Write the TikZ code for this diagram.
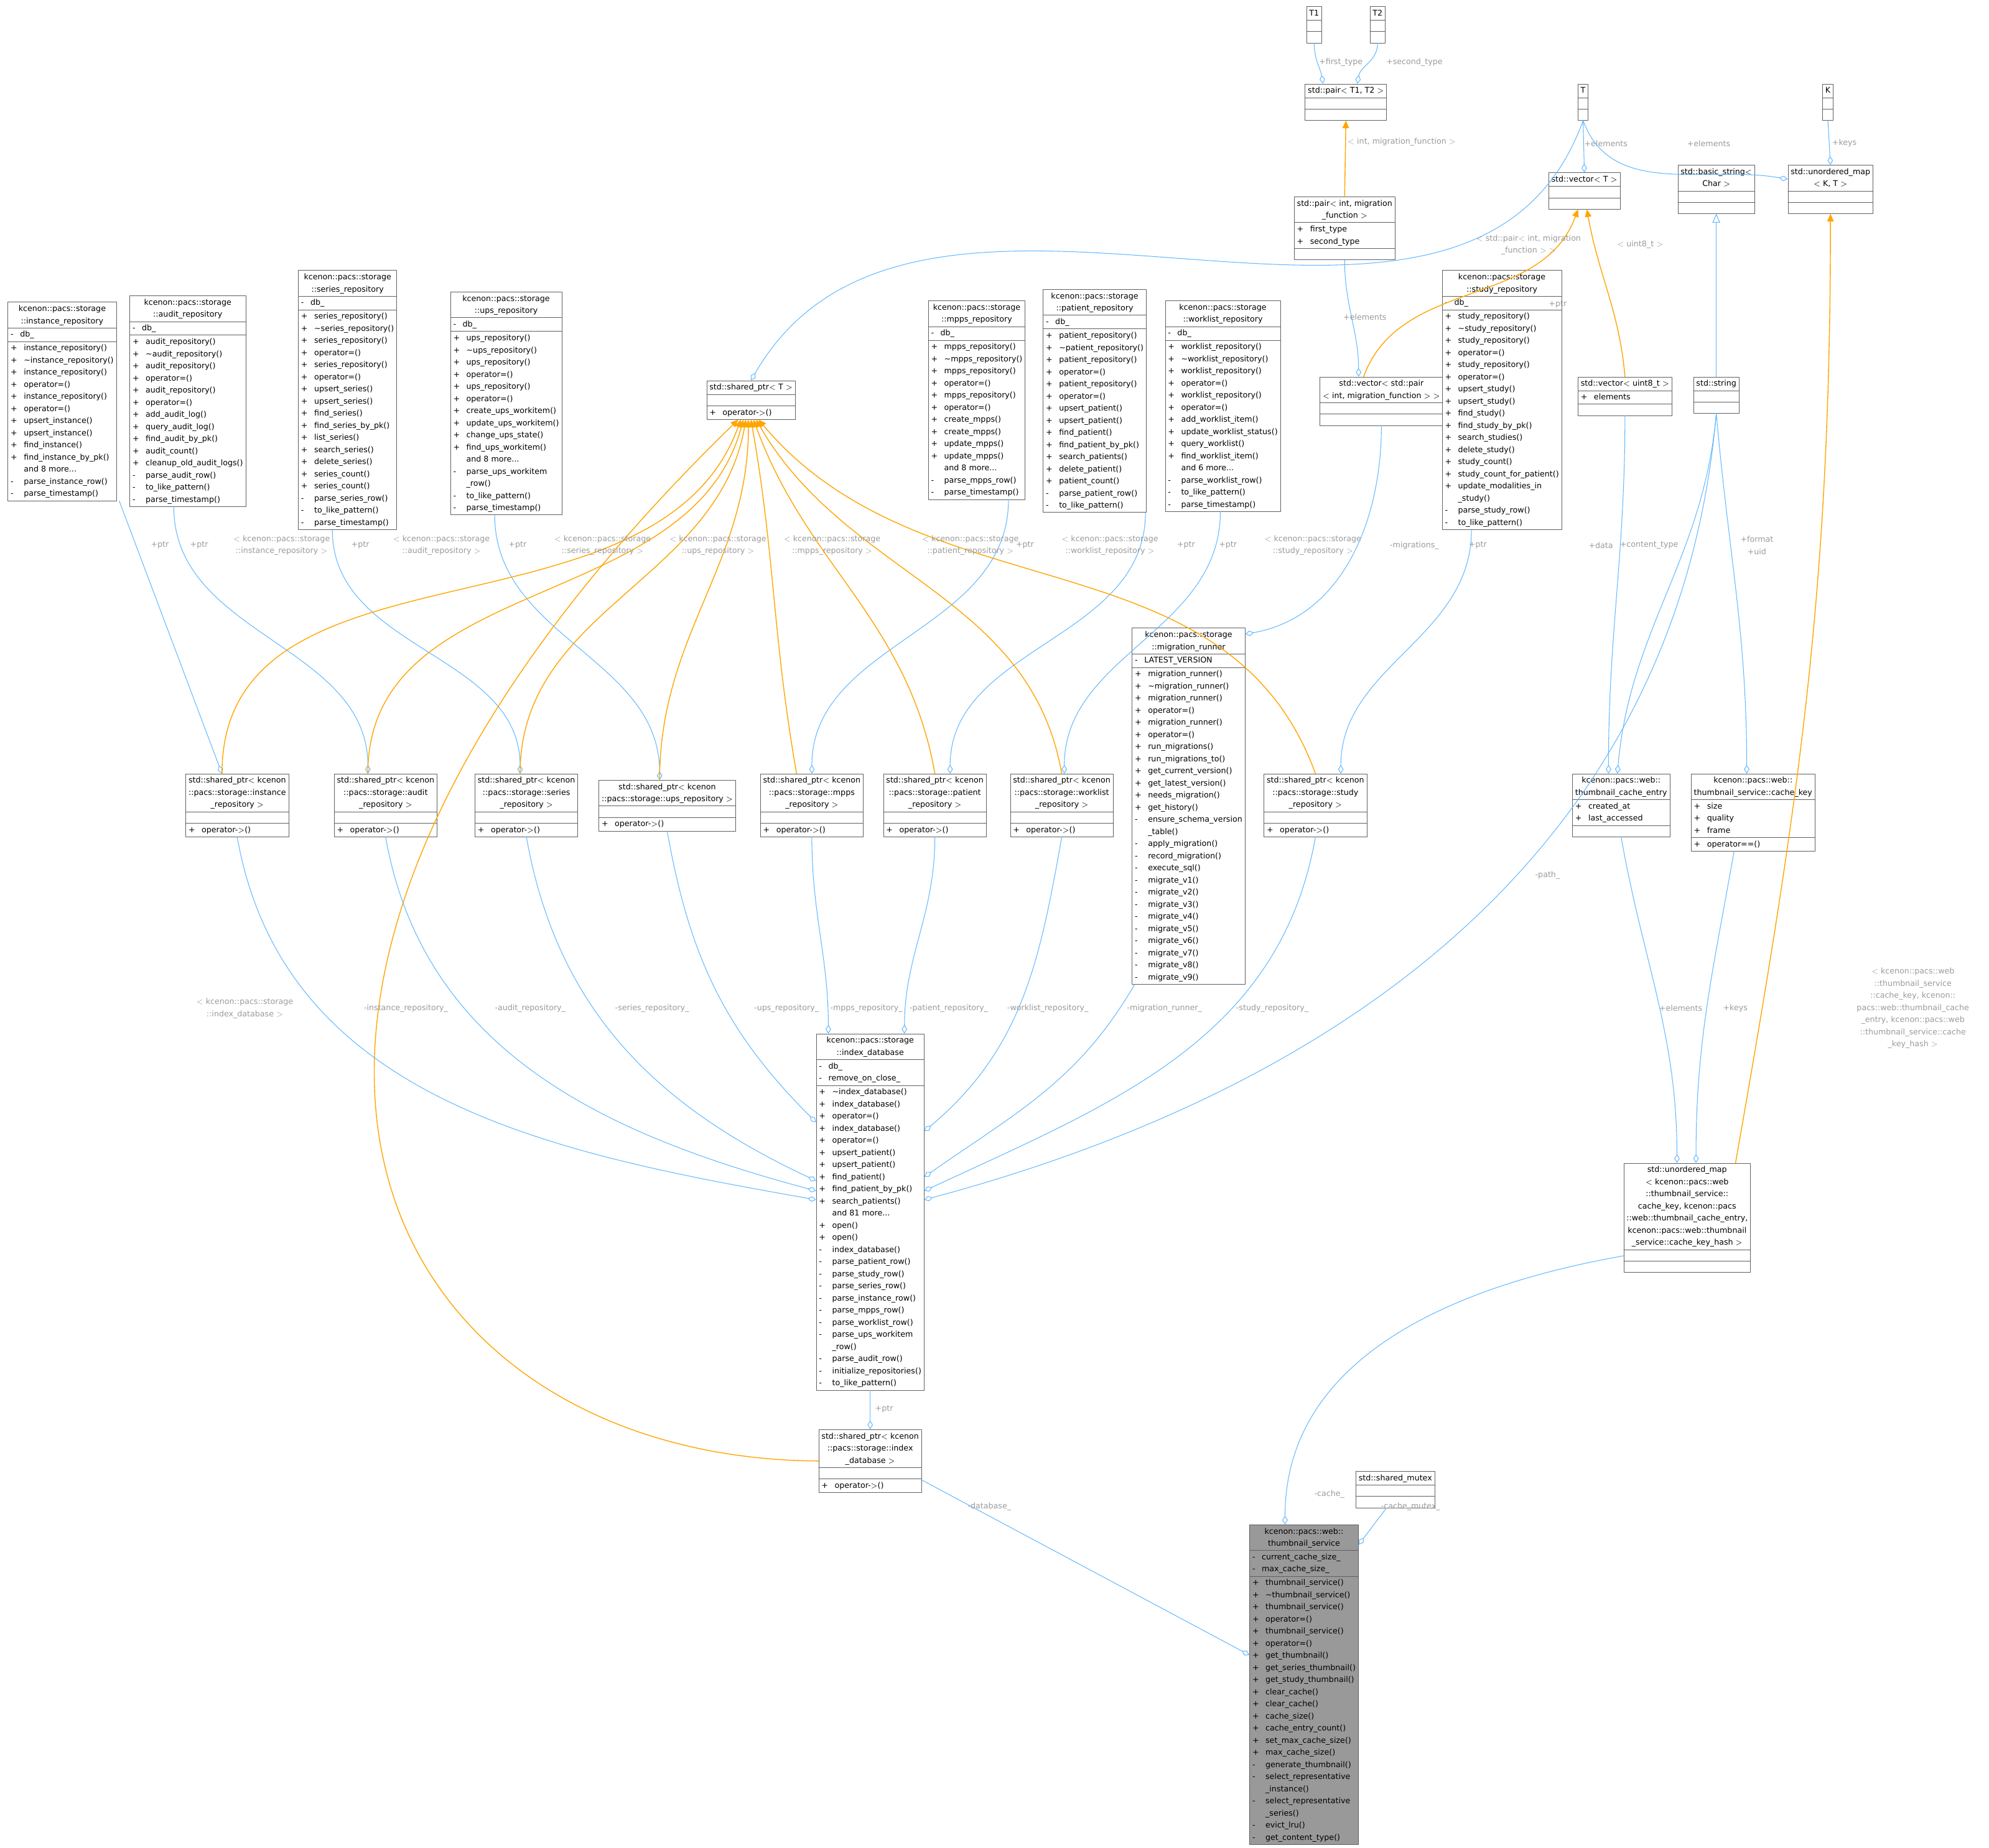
\documentclass[tikz,border=0pt]{standalone}
\usepackage{fontspec}
\newfontfamily\dxfont{DejaVu Sans}
\usetikzlibrary{arrows.meta,shapes.multipart,calc}
\definecolor{edgeblue}{HTML}{63B8FF}
\definecolor{edgeorange}{HTML}{FFA500}
\definecolor{lblgray}{HTML}{9A9A9A}
\newcommand{\ttl}[1]{\begin{tabular}{@{}c@{}}#1\end{tabular}}
\newcommand{\mbs}[1]{\begin{tabular}{@{}l@{\hspace{6pt}}l@{}}#1\end{tabular}}
\newcommand{\emp}{\rule{0pt}{9pt}}
\newcommand{\tl}{\textasciitilde}

\begin{document}
\begin{tikzpicture}[x=0.04078cm,y=-0.04078cm,line cap=round,line join=round,
  every node/.style={font=\dxfont\fontsize{7.2}{11.1}\selectfont},
  cls/.style={rectangle split,rectangle split parts=3,rectangle split ignore empty parts=false,
    rectangle split part align={center,left,left},
    draw=gray!75!black,fill=white,inner xsep=2.5pt,inner ysep=0.5pt,anchor=north},
  lbl/.style={text=lblgray,align=center,inner sep=0.5pt},
  agg/.style={draw=edgeblue,semithick,-{Diamond[open,length=8pt,width=5pt]}},
  tmpl/.style={draw=edgeorange,thick,-{Triangle[length=7pt,width=6pt]}},
  inh/.style={draw=edgeblue,semithick,-{Triangle[open,length=8pt,width=7pt]}}]
\useasboundingbox (0,0) rectangle (1568,1457);

% templates and std types
\node[cls] (t1) at (1036,5) {\ttl{T1}\nodepart{second}\emp\nodepart{third}\emp};
\node[cls] (t2) at (1086,5) {\ttl{T2}\nodepart{second}\emp\nodepart{third}\emp};
\node[cls] (pairtt) at (1061,66) {\ttl{std::pair$<$ T1, T2 $>$}\nodepart{second}\emp\nodepart{third}\emp};
\node[cls] (tt) at (1248,66) {\ttl{T}\nodepart{second}\emp\nodepart{third}\emp};
\node[cls] (kk) at (1441,66) {\ttl{K}\nodepart{second}\emp\nodepart{third}\emp};
\node[cls] (vect) at (1249,136) {\ttl{std::vector$<$ T $>$}\nodepart{second}\emp\nodepart{third}\emp};
\node[cls] (umapkt) at (1443,130) {\ttl{std::unordered\_map\\$<$ K, T $>$}\nodepart{second}\emp\nodepart{third}\emp};
\node[cls] (bstr) at (1353,130) {\ttl{std::basic\_string$<$\\Char $>$}\nodepart{second}\emp\nodepart{third}\emp};
\node[cls] (pairmf) at (1060,155) {\ttl{std::pair$<$ int, migration\\\_function $>$}\nodepart{second}\mbs{+ & first\_type\\+ & second\_type}\nodepart{third}\emp};
\node[cls] (spt) at (592,300) {\ttl{std::shared\_ptr$<$ T $>$}\nodepart{second}\emp\nodepart{third}\mbs{+ & operator-$>$()}};
\node[cls] (vecpair) at (1089,297) {\ttl{std::vector$<$ std::pair\\$<$ int, migration\_function $>$ $>$}\nodepart{second}\emp\nodepart{third}\emp};
\node[cls] (vecu8) at (1281,297) {\ttl{std::vector$<$ uint8\_t $>$}\nodepart{second}\mbs{+ & elements}\nodepart{third}\emp};
\node[cls] (str) at (1353,297) {\ttl{std::string}\nodepart{second}\emp\nodepart{third}\emp};

% repositories
\node[cls] (instrepo) at (49,238) {\ttl{kcenon::pacs::storage\\::instance\_repository}\nodepart{second}\mbs{- & db\_}\nodepart{third}\mbs{+ & instance\_repository()\\+ & \tl instance\_repository()\\+ & instance\_repository()\\+ & operator=()\\+ & instance\_repository()\\+ & operator=()\\+ & upsert\_instance()\\+ & upsert\_instance()\\+ & find\_instance()\\+ & find\_instance\_by\_pk()\\ & and 8 more...\\- & parse\_instance\_row()\\- & parse\_timestamp()}};
\node[cls] (auditrepo) at (148,233) {\ttl{kcenon::pacs::storage\\::audit\_repository}\nodepart{second}\mbs{- & db\_}\nodepart{third}\mbs{+ & audit\_repository()\\+ & \tl audit\_repository()\\+ & audit\_repository()\\+ & operator=()\\+ & audit\_repository()\\+ & operator=()\\+ & add\_audit\_log()\\+ & query\_audit\_log()\\+ & find\_audit\_by\_pk()\\+ & audit\_count()\\+ & cleanup\_old\_audit\_logs()\\- & parse\_audit\_row()\\- & to\_like\_pattern()\\- & parse\_timestamp()}};
\node[cls] (seriesrepo) at (274,213) {\ttl{kcenon::pacs::storage\\::series\_repository}\nodepart{second}\mbs{- & db\_}\nodepart{third}\mbs{+ & series\_repository()\\+ & \tl series\_repository()\\+ & series\_repository()\\+ & operator=()\\+ & series\_repository()\\+ & operator=()\\+ & upsert\_series()\\+ & upsert\_series()\\+ & find\_series()\\+ & find\_series\_by\_pk()\\+ & list\_series()\\+ & search\_series()\\+ & delete\_series()\\+ & series\_count()\\+ & series\_count()\\- & parse\_series\_row()\\- & to\_like\_pattern()\\- & parse\_timestamp()}};
\node[cls] (upsrepo) at (399,230) {\ttl{kcenon::pacs::storage\\::ups\_repository}\nodepart{second}\mbs{- & db\_}\nodepart{third}\mbs{+ & ups\_repository()\\+ & \tl ups\_repository()\\+ & ups\_repository()\\+ & operator=()\\+ & ups\_repository()\\+ & operator=()\\+ & create\_ups\_workitem()\\+ & update\_ups\_workitem()\\+ & change\_ups\_state()\\+ & find\_ups\_workitem()\\ & and 8 more...\\- & parse\_ups\_workitem\\ & \_row()\\- & to\_like\_pattern()\\- & parse\_timestamp()}};
\node[cls] (mppsrepo) at (770,237) {\ttl{kcenon::pacs::storage\\::mpps\_repository}\nodepart{second}\mbs{- & db\_}\nodepart{third}\mbs{+ & mpps\_repository()\\+ & \tl mpps\_repository()\\+ & mpps\_repository()\\+ & operator=()\\+ & mpps\_repository()\\+ & operator=()\\+ & create\_mpps()\\+ & create\_mpps()\\+ & update\_mpps()\\+ & update\_mpps()\\ & and 8 more...\\- & parse\_mpps\_row()\\- & parse\_timestamp()}};
\node[cls] (patrepo) at (863,228) {\ttl{kcenon::pacs::storage\\::patient\_repository}\nodepart{second}\mbs{- & db\_}\nodepart{third}\mbs{+ & patient\_repository()\\+ & \tl patient\_repository()\\+ & patient\_repository()\\+ & operator=()\\+ & patient\_repository()\\+ & operator=()\\+ & upsert\_patient()\\+ & upsert\_patient()\\+ & find\_patient()\\+ & find\_patient\_by\_pk()\\+ & search\_patients()\\+ & delete\_patient()\\+ & patient\_count()\\- & parse\_patient\_row()\\- & to\_like\_pattern()}};
\node[cls] (wlrepo) at (964,237) {\ttl{kcenon::pacs::storage\\::worklist\_repository}\nodepart{second}\mbs{- & db\_}\nodepart{third}\mbs{+ & worklist\_repository()\\+ & \tl worklist\_repository()\\+ & worklist\_repository()\\+ & operator=()\\+ & worklist\_repository()\\+ & operator=()\\+ & add\_worklist\_item()\\+ & update\_worklist\_status()\\+ & query\_worklist()\\+ & find\_worklist\_item()\\ & and 6 more...\\- & parse\_worklist\_row()\\- & to\_like\_pattern()\\- & parse\_timestamp()}};
\node[cls] (studyrepo) at (1184,213) {\ttl{kcenon::pacs::storage\\::study\_repository}\nodepart{second}\mbs{- & db\_}\nodepart{third}\mbs{+ & study\_repository()\\+ & \tl study\_repository()\\+ & study\_repository()\\+ & operator=()\\+ & study\_repository()\\+ & operator=()\\+ & upsert\_study()\\+ & upsert\_study()\\+ & find\_study()\\+ & find\_study\_by\_pk()\\+ & search\_studies()\\+ & delete\_study()\\+ & study\_count()\\+ & study\_count\_for\_patient()\\+ & update\_modalities\_in\\ & \_study()\\- & parse\_study\_row()\\- & to\_like\_pattern()}};
\node[cls] (migrunner) at (937,495) {\ttl{kcenon::pacs::storage\\::migration\_runner}\nodepart{second}\mbs{- & LATEST\_VERSION}\nodepart{third}\mbs{+ & migration\_runner()\\+ & \tl migration\_runner()\\+ & migration\_runner()\\+ & operator=()\\+ & migration\_runner()\\+ & operator=()\\+ & run\_migrations()\\+ & run\_migrations\_to()\\+ & get\_current\_version()\\+ & get\_latest\_version()\\+ & needs\_migration()\\+ & get\_history()\\- & ensure\_schema\_version\\ & \_table()\\- & apply\_migration()\\- & record\_migration()\\- & execute\_sql()\\- & migrate\_v1()\\- & migrate\_v2()\\- & migrate\_v3()\\- & migrate\_v4()\\- & migrate\_v5()\\- & migrate\_v6()\\- & migrate\_v7()\\- & migrate\_v8()\\- & migrate\_v9()}};

% shared pointers to repositories
\node[cls] (spinst) at (187,610) {\ttl{std::shared\_ptr$<$ kcenon\\::pacs::storage::instance\\\_repository $>$}\nodepart{second}\emp\nodepart{third}\mbs{+ & operator-$>$()}};
\node[cls] (spaudit) at (304,610) {\ttl{std::shared\_ptr$<$ kcenon\\::pacs::storage::audit\\\_repository $>$}\nodepart{second}\emp\nodepart{third}\mbs{+ & operator-$>$()}};
\node[cls] (spseries) at (415,610) {\ttl{std::shared\_ptr$<$ kcenon\\::pacs::storage::series\\\_repository $>$}\nodepart{second}\emp\nodepart{third}\mbs{+ & operator-$>$()}};
\node[cls] (spups) at (526,615) {\ttl{std::shared\_ptr$<$ kcenon\\::pacs::storage::ups\_repository $>$}\nodepart{second}\emp\nodepart{third}\mbs{+ & operator-$>$()}};
\node[cls] (spmpps) at (640,610) {\ttl{std::shared\_ptr$<$ kcenon\\::pacs::storage::mpps\\\_repository $>$}\nodepart{second}\emp\nodepart{third}\mbs{+ & operator-$>$()}};
\node[cls] (sppat) at (737,610) {\ttl{std::shared\_ptr$<$ kcenon\\::pacs::storage::patient\\\_repository $>$}\nodepart{second}\emp\nodepart{third}\mbs{+ & operator-$>$()}};
\node[cls] (spwl) at (837,610) {\ttl{std::shared\_ptr$<$ kcenon\\::pacs::storage::worklist\\\_repository $>$}\nodepart{second}\emp\nodepart{third}\mbs{+ & operator-$>$()}};
\node[cls] (spstudy) at (1037,610) {\ttl{std::shared\_ptr$<$ kcenon\\::pacs::storage::study\\\_repository $>$}\nodepart{second}\emp\nodepart{third}\mbs{+ & operator-$>$()}};

% web cache types
\node[cls] (centry) at (1278,610) {\ttl{kcenon::pacs::web::\\thumbnail\_cache\_entry}\nodepart{second}\mbs{+ & created\_at\\+ & last\_accessed}\nodepart{third}\emp};
\node[cls] (ckey) at (1382,610) {\ttl{kcenon::pacs::web::\\thumbnail\_service::cache\_key}\nodepart{second}\mbs{+ & size\\+ & quality\\+ & frame}\nodepart{third}\mbs{+ & operator==()}};
\node[cls] (bigmap) at (1330,917) {\ttl{std::unordered\_map\\$<$ kcenon::pacs::web\\::thumbnail\_service::\\cache\_key, kcenon::pacs\\::web::thumbnail\_cache\_entry,\\ kcenon::pacs::web::thumbnail\\\_service::cache\_key\_hash $>$}\nodepart{second}\emp\nodepart{third}\emp};

% database and service
\node[cls] (idxdb) at (686,815) {\ttl{kcenon::pacs::storage\\::index\_database}\nodepart{second}\mbs{- & db\_\\- & remove\_on\_close\_}\nodepart{third}\mbs{+ & \tl index\_database()\\+ & index\_database()\\+ & operator=()\\+ & index\_database()\\+ & operator=()\\+ & upsert\_patient()\\+ & upsert\_patient()\\+ & find\_patient()\\+ & find\_patient\_by\_pk()\\+ & search\_patients()\\ & and 81 more...\\+ & open()\\+ & open()\\- & index\_database()\\- & parse\_patient\_row()\\- & parse\_study\_row()\\- & parse\_series\_row()\\- & parse\_instance\_row()\\- & parse\_mpps\_row()\\- & parse\_worklist\_row()\\- & parse\_ups\_workitem\\ & \_row()\\- & parse\_audit\_row()\\- & initialize\_repositories()\\- & to\_like\_pattern()}};
\node[cls] (spidx) at (686,1127) {\ttl{std::shared\_ptr$<$ kcenon\\::pacs::storage::index\\\_database $>$}\nodepart{second}\emp\nodepart{third}\mbs{+ & operator-$>$()}};
\node[cls] (smutex) at (1100,1160) {\ttl{std::shared\_mutex}\nodepart{second}\emp\nodepart{third}\emp};
\node[cls,fill=gray!80] (thumbsvc) at (1028,1202) {\ttl{kcenon::pacs::web::\\thumbnail\_service}\nodepart{second}\mbs{- & current\_cache\_size\_\\- & max\_cache\_size\_}\nodepart{third}\mbs{+ & thumbnail\_service()\\+ & \tl thumbnail\_service()\\+ & thumbnail\_service()\\+ & operator=()\\+ & thumbnail\_service()\\+ & operator=()\\+ & get\_thumbnail()\\+ & get\_series\_thumbnail()\\+ & get\_study\_thumbnail()\\+ & clear\_cache()\\+ & clear\_cache()\\+ & cache\_size()\\+ & cache\_entry\_count()\\+ & set\_max\_cache\_size()\\+ & max\_cache\_size()\\- & generate\_thumbnail()\\- & select\_representative\\ & \_instance()\\- & select\_representative\\ & \_series()\\- & evict\_lru()\\- & get\_content\_type()}};

% top part
\draw[agg] (t1.south) to[out=-90,in=100] ($(pairtt.north)+(-18,0)$);
\draw[agg] (t2.south) to[out=-90,in=80] ($(pairtt.north)+(9,0)$);
\node[lbl] (l1) at (1057,49) {+first\_type};
\node[lbl] (l2) at (1115,49) {+second\_type};
\draw[tmpl] (pairmf.north) -- (pairtt.south);
\node[lbl] (l3) at (1105,112) {$<$ int, migration\_function $>$};
\draw[agg] (tt.south) -- (vect.north);
\node[lbl] (l4) at (1266,113) {+elements};
\draw[agg] (tt.south) to[out=-70,in=170] ($(umapkt.west)+(0,-8)$);
\node[lbl] (l5) at (1347,113) {+elements};
\draw[agg] (kk.south) -- (umapkt.north);
\node[lbl] (l6) at (1454,113) {+keys};
\draw[agg] (tt.south) to[out=-110,in=60] ($(spt.north)+(0,0)$);
\node[lbl] (l7) at (1228,240) {+ptr};
\draw[agg] (pairmf.south) to[out=-90,in=90] ($(vecpair.north)+(-18,0)$);
\node[lbl] (l8) at (1076,250) {+elements};
\draw[tmpl] ($(vecpair.north)+(-14,0)$) to[out=70,in=-110] ($(vect.south)+(-5,0)$);
\node[lbl] (l9) at (1205,193) {$<$ std::pair$<$ int, migration\\\_function $>$ $>$};
\draw[tmpl] (vecu8.north) to[out=95,in=-80] ($(vect.south)+(2,0)$);
\node[lbl] (l10) at (1293,193) {$<$ uint8\_t $>$};
\draw[inh] (str.north) -- (bstr.south);

% repositories to shared pointers
\draw[agg] ($(instrepo.south)+(45,0)$) -- ($(spinst.north)+(-12,0)$);
\node[lbl] (p1) at (126,430) {+ptr};
\draw[agg] ($(auditrepo.south)+(-11,0)$) to[out=-90,in=90] ($(spaudit.north)+(-14,0)$);
\node[lbl] (p2) at (157,430) {+ptr};
\draw[agg] ($(seriesrepo.south)+(-12,0)$) to[out=-90,in=90] ($(spseries.north)+(-5,0)$);
\node[lbl] (p3) at (284,430) {+ptr};
\draw[agg] ($(upsrepo.south)+(-9,0)$) to[out=-90,in=90] ($(spups.north)+(-6,0)$);
\node[lbl] (p4) at (408,430) {+ptr};
\draw[agg] ($(mppsrepo.south)+(25,0)$) to[out=-90,in=90] (spmpps.north);
\node[lbl] (p5) at (808,430) {+ptr};
\draw[agg] ($(patrepo.south)+(40,0)$) to[out=-90,in=90] ($(sppat.north)+(12,0)$);
\node[lbl] (p6) at (935,430) {+ptr};
\draw[agg] ($(wlrepo.south)+(-2,0)$) to[out=-90,in=90] ($(spwl.north)+(2,0)$);
\node[lbl] (p7) at (968,430) {+ptr};
\draw[agg] ($(studyrepo.south)+(-24,0)$) to[out=-90,in=90] ($(spstudy.north)+(20,0)$);
\node[lbl] (p8) at (1165,430) {+ptr};

% template instances of shared_ptr
\draw[tmpl] ($(spinst.north)+(-12,0)$) to[out=90,in=-110] ($(spt.south)+(-8,0)$);
\draw[tmpl] ($(spaudit.north)+(-14,0)$) to[out=90,in=-105] ($(spt.south)+(-6,0)$);
\draw[tmpl] ($(spseries.north)+(-5,0)$) to[out=90,in=-100] ($(spt.south)+(-4,0)$);
\draw[tmpl] ($(spups.north)+(-6,0)$) to[out=90,in=-90] ($(spt.south)+(-2,0)$);
\draw[tmpl] ($(spmpps.north)+(-12,0)$) to[out=100,in=-80] ($(spt.south)+(0,0)$);
\draw[tmpl] (sppat.north) to[out=100,in=-70] ($(spt.south)+(2,0)$);
\draw[tmpl] (spwl.north) to[out=100,in=-60] ($(spt.south)+(4,0)$);
\draw[tmpl] (spstudy.north) to[out=110,in=-50] ($(spt.south)+(6,0)$);
\draw[tmpl] (spidx.west) .. controls (300,1150) and (100,800) .. ($(spt.south)+(-10,0)$);
\node[lbl] (o1) at (222,430) {$<$ kcenon::pacs::storage\\::instance\_repository $>$};
\node[lbl] (o2) at (348,430) {$<$ kcenon::pacs::storage\\::audit\_repository $>$};
\node[lbl] (o3) at (475,430) {$<$ kcenon::pacs::storage\\::series\_repository $>$};
\node[lbl] (o4) at (566,430) {$<$ kcenon::pacs::storage\\::ups\_repository $>$};
\node[lbl] (o5) at (656,430) {$<$ kcenon::pacs::storage\\::mpps\_repository $>$};
\node[lbl] (o6) at (765,430) {$<$ kcenon::pacs::storage\\::patient\_repository $>$};
\node[lbl] (o7) at (875,430) {$<$ kcenon::pacs::storage\\::worklist\_repository $>$};
\node[lbl] (o8) at (1035,430) {$<$ kcenon::pacs::storage\\::study\_repository $>$};
\node[lbl] (o9) at (193,795) {$<$ kcenon::pacs::storage\\::index\_database $>$};

% members of index_database
\draw[agg] (spinst.south) to[out=-80,in=170] ($(idxdb.north west)+(0,131)$);
\node[lbl] (m1) at (320,795) {-instance\_repository\_};
\draw[agg] (spaudit.south) to[out=-80,in=165] ($(idxdb.north west)+(0,124)$);
\node[lbl] (m2) at (418,795) {-audit\_repository\_};
\draw[agg] (spseries.south) to[out=-80,in=155] ($(idxdb.north west)+(0,116)$);
\node[lbl] (m3) at (514,795) {-series\_repository\_};
\draw[agg] (spups.south) to[out=-80,in=135] ($(idxdb.north west)+(0,70)$);
\node[lbl] (m4) at (620,795) {-ups\_repository\_};
\draw[agg] (spmpps.south) to[out=-90,in=90] ($(idxdb.north)+(-33,0)$);
\node[lbl] (m5) at (683,795) {-mpps\_repository\_};
\draw[agg] (sppat.south) to[out=-90,in=90] ($(idxdb.north)+(27,0)$);
\node[lbl] (m6) at (748,795) {-patient\_repository\_};
\draw[agg] (spwl.south) to[out=-100,in=40] ($(idxdb.north east)+(0,77)$);
\node[lbl] (m7) at (826,795) {-worklist\_repository\_};
\draw[agg] ($(migrunner.south west)+(2,0)$) to[out=-120,in=35] ($(idxdb.north east)+(0,113)$);
\node[lbl] (m8) at (918,795) {-migration\_runner\_};
\draw[agg] (spstudy.south) to[out=-100,in=25] ($(idxdb.north east)+(0,124)$);
\node[lbl] (m9) at (1003,795) {-study\_repository\_};
\draw[agg] (str.south) to[out=-95,in=15] ($(idxdb.north east)+(0,131)$);
\node[lbl] (m10) at (1220,690) {-path\_};
\draw[agg] (vecpair.south) to[out=-90,in=10] ($(migrunner.north east)+(0,5)$);
\node[lbl] (m11) at (1115,430) {-migrations\_};

% web cache members
\draw[agg] (vecu8.south) to[out=-90,in=90] ($(centry.north)+(-10,0)$);
\node[lbl] (w1) at (1262,430) {+data};
\draw[agg] (str.south) to[out=-95,in=85] ($(centry.north)+(-3,0)$);
\node[lbl] (w2) at (1300,430) {+content\_type};
\draw[agg] (str.south) to[out=-85,in=90] ($(ckey.north)+(-5,0)$);
\node[lbl] (w3) at (1385,430) {+format\\+uid};
\draw[agg] (centry.south) to[out=-80,in=90] ($(bigmap.north)+(-8,0)$);
\node[lbl] (w4) at (1325,795) {+elements};
\draw[agg] ($(ckey.south)+(-15,0)$) to[out=-100,in=90] ($(bigmap.north)+(7,0)$);
\node[lbl] (w5) at (1368,795) {+keys};
\draw[tmpl] ($(bigmap.north east)+(-12,0)$) to[out=80,in=-90] (umapkt.south);
\node[lbl] (w6) at (1508,795) {$<$ kcenon::pacs::web\\::thumbnail\_service\\::cache\_key, kcenon::\\pacs::web::thumbnail\_cache\\\_entry, kcenon::pacs::web\\::thumbnail\_service::cache\\\_key\_hash $>$};

% service members
\draw[agg] (idxdb.south) -- (spidx.north);
\node[lbl] (s1) at (697,1111) {+ptr};
\draw[agg] ($(spidx.north east)+(0,40)$) -- ($(thumbsvc.north west)+(0,103)$);
\node[lbl] (s2) at (780,1188) {-database\_};
\draw[agg] ($(bigmap.west)+(0,30)$) to[out=190,in=90] ($(thumbsvc.north)+(-15,0)$);
\node[lbl] (s3) at (1048,1178) {-cache\_};
\draw[agg] ($(smutex.south)+(-7,0)$) -- ($(thumbsvc.north east)+(0,16)$);
\node[lbl] (s4) at (1112,1188) {-cache\_mutex\_};
\end{tikzpicture}
\end{document}
